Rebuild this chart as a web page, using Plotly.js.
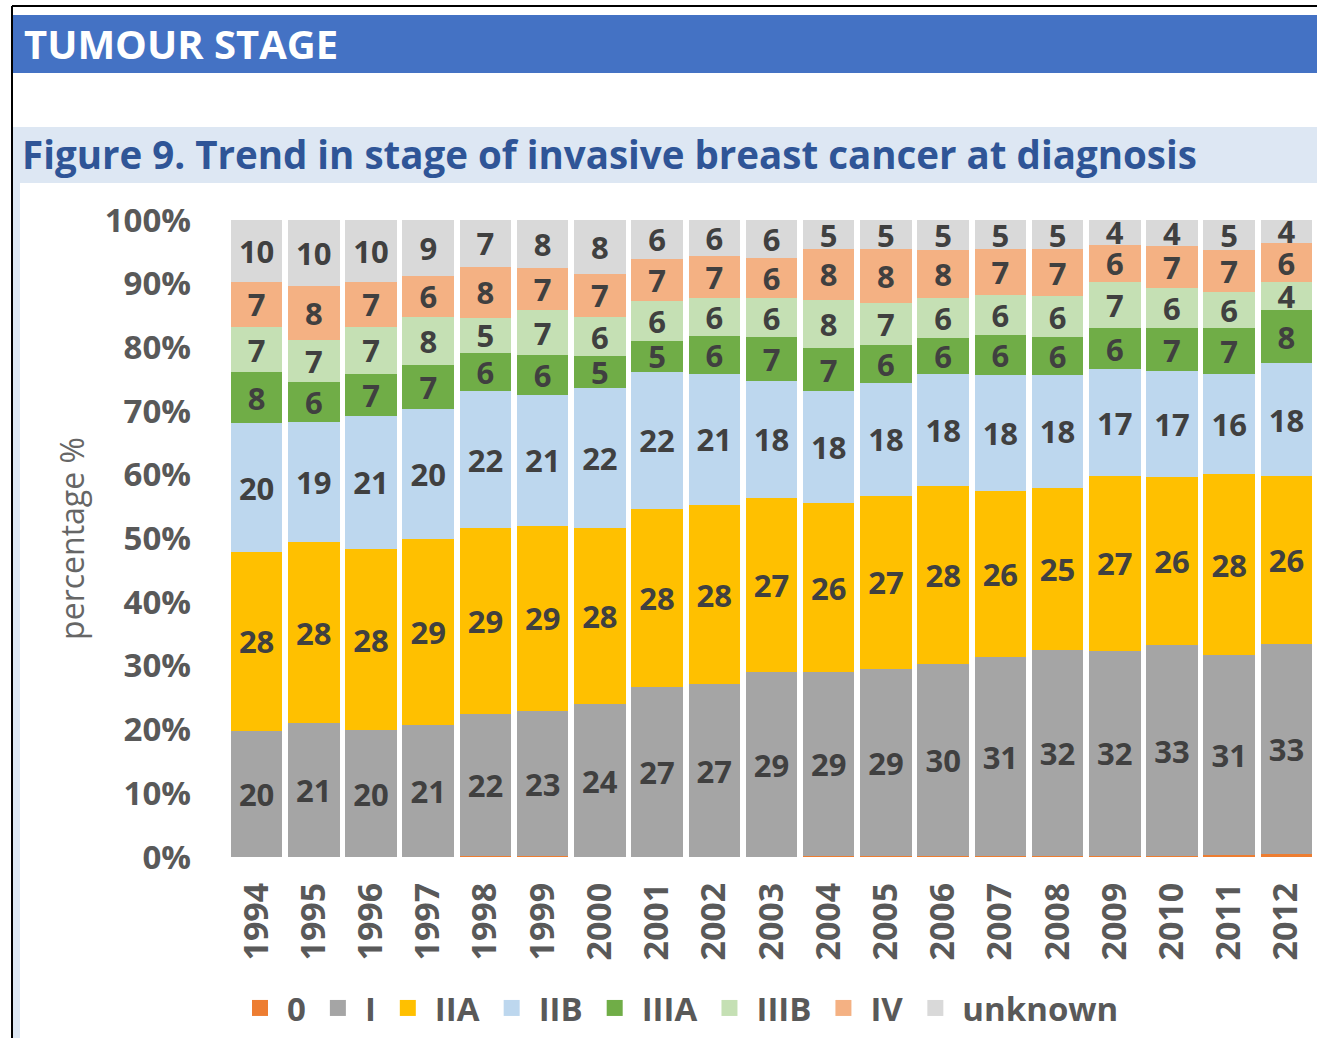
<!DOCTYPE html>
<html>
<head>
<meta charset="utf-8">
<script src="https://cdn.plot.ly/plotly-3.0.1.min.js"></script>
<style>
  html, body { margin: 0; padding: 0; background: #ffffff; }
  #chart { width: 1317px; height: 1038px; }
</style>
</head>
<body>
<div id="chart"></div>
<script>
// ---- data (percent of cases per year) ----
const years = ['1994','1995','1996','1997','1998','1999','2000','2001','2002','2003',
               '2004','2005','2006','2007','2008','2009','2010','2011','2012'];
const stage0    = [0, 0, 0, 0, 0.1, 0.1, 0, 0, 0, 0, 0.1, 0.1, 0.1, 0.1, 0.1, 0.1, 0.1, 0.3, 0.4];
const stageI    = [19.8, 21.0, 19.9, 20.8, 22.4, 22.8, 24.0, 26.7, 27.1, 29.0, 29.0, 29.4, 30.2, 31.3, 32.4, 32.3, 33.2, 31.4, 33.0];
const stageIIA  = [28.1, 28.4, 28.4, 29.2, 29.1, 29.1, 27.6, 27.9, 28.2, 27.4, 26.4, 27.2, 28.0, 26.1, 25.4, 27.4, 26.3, 28.4, 26.4];
const stageIIB  = [20.2, 18.9, 21.0, 20.3, 21.6, 20.6, 22.0, 21.6, 20.6, 18.4, 17.6, 17.7, 17.6, 18.2, 17.8, 16.8, 16.7, 15.7, 17.7];
const stageIIIA = [8.0, 6.3, 6.6, 6.9, 6.0, 6.2, 5.1, 4.8, 5.9, 6.8, 6.8, 5.9, 5.6, 6.2, 5.9, 6.4, 6.7, 7.3, 8.3];
const stageIIIB = [7.1, 6.6, 7.3, 7.6, 5.4, 7.0, 6.0, 6.3, 5.9, 6.1, 7.6, 6.7, 6.2, 6.4, 6.4, 7.3, 6.3, 5.6, 4.4];
const stageIV   = [7.1, 8.4, 7.1, 6.4, 8.1, 6.6, 6.9, 6.6, 6.6, 6.4, 7.9, 8.4, 7.6, 7.1, 7.4, 5.8, 6.6, 6.6, 6.2];
const unknown   = [9.7, 10.4, 9.7, 8.8, 7.3, 7.6, 8.4, 6.1, 5.7, 5.9, 4.6, 4.6, 4.7, 4.6, 4.6, 3.9, 4.1, 4.7, 3.6];

const seriesNames = ['0', 'I', 'IIA', 'IIB', 'IIIA', 'IIIB', 'IV', 'unknown'];
const seriesValues = [stage0, stageI, stageIIA, stageIIB, stageIIIA, stageIIIB, stageIV, unknown];
const seriesColors = ['#ED7D31', '#A5A5A5', '#FFC000', '#BDD7EE', '#70AD47', '#C5E0B4', '#F4B183', '#D9D9D9'];
const showLabels   = [false, true, true, true, true, true, true, true];

// ---- page geometry ----
const W = 1317, H = 1038;
const M = { l: 228, r: 2, t: 220, b: 181 };
const plotW = W - M.l - M.r, plotH = H - M.t - M.b;
const px2x = px => (px - M.l) / plotW;
const px2y = py => (H - M.b - py) / plotH;

const barTraces = seriesNames.map((name, i) => ({
  type: 'bar',
  name: name,
  legendgroup: name,
  showlegend: false,
  x: years,
  y: seriesValues[i],
  marker: { color: seriesColors[i], line: { width: 0 } },
  text: showLabels[i] ? seriesValues[i].map(v => String(Math.round(v))) : undefined,
  texttemplate: showLabels[i] ? '%{text}' : undefined,
  textposition: showLabels[i] ? 'inside' : 'none',
  insidetextanchor: 'middle',
  textangle: 0,
  constraintext: 'none',
  textfont: { family: 'Open Sans', size: 31, color: '#404040', weight: 700 },
  hoverinfo: 'x+y+name'
}));

// legend entries with square keys (as in the original legend)
const legendTraces = seriesNames.map((name, i) => ({
  type: 'scatter',
  mode: 'markers',
  name: name,
  legendgroup: name,
  showlegend: true,
  x: [null], y: [null],
  marker: { symbol: 'square', size: 20, color: seriesColors[i], line: { width: 0 } },
  hoverinfo: 'skip'
}));

const layout = {
  width: W, height: H,
  margin: M,
  paper_bgcolor: '#ffffff',
  plot_bgcolor: '#ffffff',
  barmode: 'stack',
  bargap: 0.1,
  showlegend: true,
  font: { family: 'Open Sans', color: '#595959' },
  title: {
    text: 'Figure 9. Trend in stage of invasive breast cancer at diagnosis',
    font: { family: 'Open Sans', size: 38.5, color: '#2F5597', weight: 700 },
    xref: 'container', yref: 'container',
    x: 22 / W, xanchor: 'left',
    y: 1 - 156 / H, yanchor: 'middle'
  },
  xaxis: {
    type: 'category',
    categoryorder: 'array',
    categoryarray: years,
    tickangle: -90,
    tickfont: { family: 'Open Sans', size: 34, color: '#595959', weight: 700 },
    ticks: '',
    ticklabelstandoff: 18,
    showline: false, showgrid: false, zeroline: false,
    fixedrange: true
  },
  yaxis: {
    range: [0, 100],
    dtick: 10,
    ticksuffix: '%',
    tickfont: { family: 'Open Sans', size: 33, color: '#595959', weight: 700 },
    ticks: '',
    ticklabelstandoff: 36,
    showline: false, showgrid: false, zeroline: false,
    title: { text: 'percentage %', font: { family: 'Open Sans', size: 32, color: '#666666' }, standoff: 10 },
    fixedrange: true
  },
  legend: {
    orientation: 'h',
    traceorder: 'normal',
    x: px2x(233), xanchor: 'left',
    y: px2y(1008), yanchor: 'middle',
    itemwidth: 44,
    font: { family: 'Open Sans', size: 33, color: '#595959', weight: 700 },
    bgcolor: 'rgba(0,0,0,0)',
    itemclick: false, itemdoubleclick: false
  },
  shapes: [
    // blue section header band
    { type: 'rect', xref: 'paper', yref: 'paper', layer: 'below',
      x0: px2x(12), x1: px2x(W + 2), y0: px2y(73), y1: px2y(15),
      fillcolor: '#4472C4', line: { width: 0 } },
    // light figure-title band
    { type: 'rect', xref: 'paper', yref: 'paper', layer: 'below',
      x0: px2x(12), x1: px2x(W + 2), y0: px2y(183), y1: px2y(127),
      fillcolor: '#DDE7F3', line: { width: 0 } },
    // light strip running down the left edge of the figure box
    { type: 'rect', xref: 'paper', yref: 'paper', layer: 'below',
      x0: px2x(12), x1: px2x(20), y0: px2y(H + 2), y1: px2y(183),
      fillcolor: '#DDE7F3', line: { width: 0 } },
    // page frame lines
    { type: 'line', xref: 'paper', yref: 'paper',
      x0: px2x(12), x1: px2x(12), y0: px2y(6), y1: px2y(H + 2),
      line: { color: '#000000', width: 2 } },
    { type: 'line', xref: 'paper', yref: 'paper',
      x0: px2x(12), x1: px2x(W + 2), y0: px2y(6), y1: px2y(6),
      line: { color: '#000000', width: 2 } }
  ],
  annotations: [
    { text: 'TUMOUR STAGE', xref: 'paper', yref: 'paper',
      x: px2x(22), xanchor: 'left', y: px2y(44), yanchor: 'middle',
      showarrow: false,
      font: { family: 'Open Sans', size: 40, color: '#ffffff', weight: 700 } }
  ]
};

Plotly.newPlot('chart', barTraces.concat(legendTraces), layout, { displayModeBar: false, staticPlot: true });
</script>
</body>
</html>
